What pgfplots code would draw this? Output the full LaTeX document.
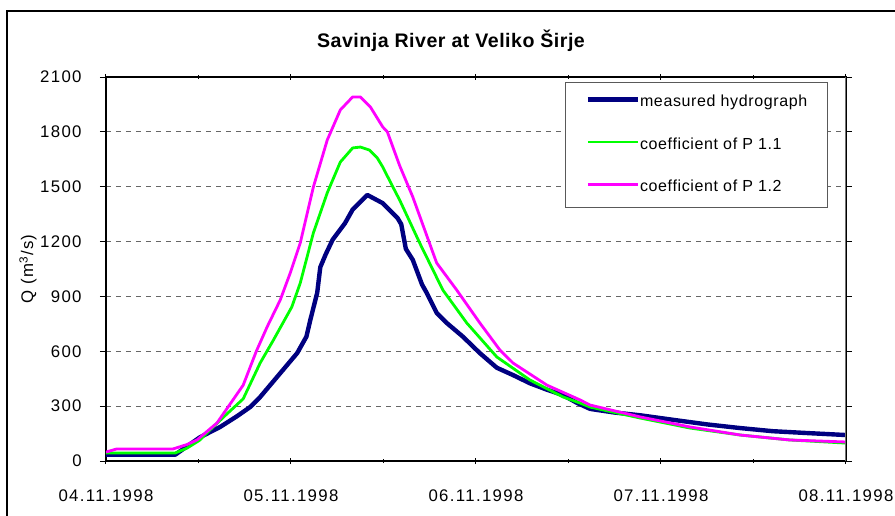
\documentclass[border=0pt]{standalone}
\usepackage{fontspec}
\setmainfont{Liberation Sans}
\newfontfamily\tickfont[LetterSpace=8]{Liberation Sans}
\newfontfamily\legfont[LetterSpace=4]{Liberation Sans}
\newfontfamily\titlefont[LetterSpace=2.5]{Liberation Sans}
\usepackage{pgfplots}
\pgfplotsset{compat=1.18}
\definecolor{navyc}{RGB}{0,0,128}
\definecolor{limec}{RGB}{0,255,0}
\definecolor{magc}{RGB}{255,0,255}

\pgfplotstableread{
h q
0 35
9 35
10.5 80
12.2 130
14.8 186
17 245
18.7 295
20 350
22.2 460
24.8 590
26 680
26.5 770
27.4 920
27.8 1060
28.5 1130
29.4 1210
31 1300
32 1375
33.9 1455
35.9 1410
37.8 1330
38.3 1295
38.9 1160
39.8 1100
41 965
41.6 920
42.9 810
44.2 755
46.3 680
48.5 590
50.7 510
52.8 470
55 425
57.2 390
59.3 360
61.1 318
62.8 285
66 265
69.3 250
73.6 225
78 200
82.3 180
86.5 163
90.9 153
96 142
}\measured

\pgfplotstableread{
h q
0 44
9 44
10.5 70
12.2 115
13.5 170
15.5 250
17.8 340
20 536
21.7 660
24.1 842
25.2 973
26.9 1247
28.7 1466
30.4 1635
32 1712
33 1717
34.2 1700
35.2 1657
35.9 1608
37.2 1500
38.1 1427
40.7 1192
43.7 935
46.8 755
50.7 569
55 443
59.3 350
61.5 317
62.8 295
69.3 235
75.8 180
82.3 142
88.7 115
96 98
}\coefa

\pgfplotstableread{
h q
0 49
1.4 66
8.7 66
10.5 90
11.8 115
14.4 208
17.8 415
19.5 600
20.9 733
22.6 880
23.9 1028
25.2 1192
26.9 1498
28.7 1755
30.4 1920
32 1991
33 1991
34.3 1936
35.9 1827
36.5 1800
38.1 1615
39.8 1444
42.9 1083
45.5 935
48.5 755
51.1 607
52.8 536
57.2 415
61.5 334
62.8 306
69.3 241
75.8 186
82.3 142
88.7 115
96 104
}\coefb

\begin{document}
\begin{tikzpicture}
\useasboundingbox (0,0) rectangle (447.5pt,257.5pt);
\draw[line width=0.6pt] (3.5pt,-5pt) -- (3.5pt,252pt) -- (460pt,252pt);
\node[font=\titlefont\bfseries\fontsize{9.8}{12}\selectfont, anchor=base, inner sep=0pt] at (225.5pt,233.85pt) {Savinja River at Veliko Širje};
\begin{axis}[
  at={(53pt,27pt)}, anchor=south west,
  width=370pt, height=192pt, scale only axis,
  xmin=0, xmax=96, ymin=0, ymax=2100,
  xtick={0,24,48,72,96},
  xticklabels={04.11.1998,05.11.1998,06.11.1998,07.11.1998,08.11.1998},
  minor xtick={12,36,60,84},
  ytick={0,300,600,900,1200,1500,1800,2100},
  /pgf/number format/assume math mode=true,
  /pgf/number format/1000 sep={},
  xticklabel style={font=\tickfont\fontsize{8.4}{10}\selectfont, anchor=base, inner sep=0pt, yshift=-18.5pt},
  yticklabel style={font=\tickfont\fontsize{8.4}{10}\selectfont, anchor=east, inner sep=0pt, xshift=-9pt},
  ylabel={Q (m\textsuperscript{3}/s)},
  ylabel style={at={(axis description cs:-0.1054,0.5)}, anchor=center, font=\tickfont\fontsize{8.4}{10}\selectfont},
  axis line style={line width=0.6pt},
  tick style={black, line width=0.5pt},
  major tick length=3pt, minor tick length=2pt,
  xtick align=center, ytick align=outside,
  ymajorgrids,
  major grid style={black!60, dash pattern=on 2.5pt off 2.5pt, line width=0.5pt},
  legend style={at={(axis description cs:0.6203,0.987)}, anchor=north west,
    draw=black!65, line width=0.6pt, fill=white,
    inner xsep=10pt, inner ysep=6pt, row sep=13.25pt,
    font=\legfont\fontsize{8}{9.6}\selectfont,
    nodes={inner sep=0pt, text height=6pt, text depth=2pt}},
  legend cell align=left,
  legend image code/.code={\draw[#1] (0pt,1.5pt) -- (25pt,1.5pt);},
]
\addplot[navyc, line width=2.2pt, line join=round] table[x=h,y=q] {\measured};
\addlegendentry{measured hydrograph}
\addplot[limec, line width=1.4pt, line join=round] table[x=h,y=q] {\coefa};
\addlegendentry{coefficient of P 1.1}
\addplot[magc, line width=1.4pt, line join=round] table[x=h,y=q] {\coefb};
\addlegendentry{coefficient of P 1.2}
\draw[black!55, line width=0.6pt] (rel axis cs:1,0) -- (rel axis cs:1,1);
\end{axis}
\end{tikzpicture}
\end{document}
